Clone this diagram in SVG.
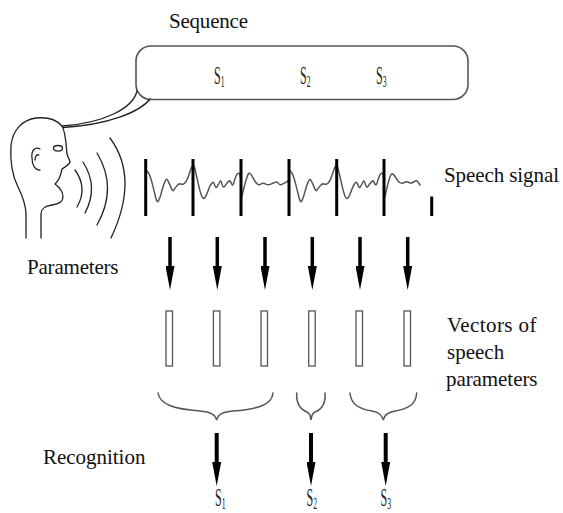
<svg xmlns="http://www.w3.org/2000/svg" xmlns:xlink="http://www.w3.org/1999/xlink" width="563" height="513" viewBox="0 0 563 513">
  <style>
    .lbl { font-family: "Liberation Serif", "Times New Roman", "DejaVu Serif", serif; font-size: 21px; fill: #111; }
    .sym { font-family: "Liberation Serif", "Times New Roman", "DejaVu Serif", serif; font-size: 25px; fill: #222; }
    .sub { font-size: 16px; }
    .ink { fill: none; stroke: #222; stroke-width: 1.3; stroke-linecap: round; stroke-linejoin: round; }
    .wave { fill: none; stroke: #555; stroke-width: 1.5; stroke-linejoin: round; stroke-linecap: round; }
    .bar { fill: #000; }
    .bubble { fill: none; stroke: #555; stroke-width: 1.6; }
    .vec { fill: #fff; stroke: #555; stroke-width: 1.3; }
    .brace { fill: none; stroke: #555; stroke-width: 1.5; stroke-linecap: round; }
    .shaft { stroke: #000; stroke-width: 3.5; marker-end: url(#ah); }
    .shaft2 { stroke: #000; stroke-width: 4; marker-end: url(#ah); }
  </style>
  <defs>
    <marker id="ah" markerUnits="userSpaceOnUse" viewBox="0 0 24 9" refX="0" refY="4.5" markerWidth="24" markerHeight="9" orient="auto">
      <path d="M0,0 L24,4.5 L0,9 Z" fill="#000"/>
    </marker>
    <!-- two waveform segments between consecutive pitch marks -->
    <path id="w12" class="wave" d="M145.7,170 L147.5,171.65 Q149.3,173.3 151,179.15 Q152.7,185 154.7,193.35 Q156.7,203.5 158.35,201 Q160,198.3 161.65,191.65 Q163.3,185 165,181.65 Q166.7,177 168.35,181.65 Q170,185 171.35,188.35 Q172.7,192.5 174.35,189.2 Q176,186.7 177.65,185 Q179.3,183.3 181.3,184.15 Q183.3,185 185.3,182.5 Q187.3,180 189.5,173 Q191.7,166 193,165.5 Q194.3,165 195.5,171.7 Q196.7,176.7 198.35,184.2 Q200,191.7 201.65,196 Q203.3,200 205,197.5 Q206.7,195 208.35,190 Q210,185 211.65,183.35 Q213.3,180.5 214.65,185 Q216,189 217.15,186.65 Q218.3,185 219.5,182.5 Q220.7,179 222,184.15 Q223.3,189 225,185.8 Q226.7,183.3 228.35,181.65 Q230,179.5 231.35,183.35 Q232.7,187.5 234.35,180.85 Q236,175 237.65,173.5 Q239.3,172 240.4,176.65 L241.5,180"/>
  </defs>

  <!-- title -->
  <g id="title">
    <text class="lbl" x="169" y="28" textLength="79">Sequence</text>
  </g>

  <!-- sequence bubble -->
  <g id="sequence">
    <rect class="bubble" x="136" y="46" width="332" height="53.5" rx="15" ry="15"/>
    <text class="sym" transform="translate(214,84) scale(0.48,1)">S<tspan class="sub" dy="3">1</tspan></text>
    <text class="sym" transform="translate(300,84) scale(0.48,1)">S<tspan class="sub" dy="3">2</tspan></text>
    <text class="sym" transform="translate(376,84) scale(0.48,1)">S<tspan class="sub" dy="3">3</tspan></text>
  </g>

  <!-- speaker -->
  <g id="speaker">
    <path class="ink" d="M137,91 C133,108 105,123 62,126"/>
    <path class="ink" d="M150,99 C140,112 108,125 63,127.5"/>
    <path class="ink" d="M26,238 L26,215 C26,205 22,195 18,187 C12,175 10,160 11,145 C13,130 22,120 36,118 C46,117 56,119 62,126 C66,133 66,145 67,154 C68,158 70,160 70,162 C69,165 65,167 62,169 C61,174 60,180 55,184 C59,187 63,191 63,197 C63,202 59,204 52,205 C45,206 41,208 41,214 L41,238"/>
    <ellipse class="ink" cx="58" cy="148.3" rx="4.5" ry="2.8"/>
    <path class="ink" d="M40,149 C35,146 31,151 32,158 C32,165 35,170 40,170 M35,160 C35,156 37,154 39,155"/>
    <path class="ink" d="M75,170 Q88,188 77,207"/>
    <path class="ink" d="M83,162 Q99,187 85,213"/>
    <path class="ink" d="M97,153 Q118,188 97,225"/>
    <path class="ink" d="M110,138 Q139.5,178 111,238"/>
  </g>

  <!-- speech signal -->
  <g id="signal">
    <use xlink:href="#w12"/>
    <path class="wave" d="M241.7,196.7 L243.35,190 Q245,183.3 246.65,178.3 Q248.3,172 250,173.5 Q251.7,175 253.35,178.35 Q255,181.7 256.65,183.35 Q258.3,185.5 260.8,184.15 Q263.3,182.5 265.8,184.15 Q268.3,185.5 270.8,184.15 Q273.3,182.5 275,182.5 Q276.7,181 278.35,183.35 Q280,185.5 282.5,184.15 Q285,183 287,181.65 L289,180"/>
    <use xlink:href="#w12" transform="translate(143.3,0)"/>
    <path class="wave" d="M385,196.7 L386.5,189.85 Q388,183 389.5,178.5 Q391,173 392.75,174 Q394.5,175 396.25,178.35 Q398,181.7 399.85,182.5 Q401.7,183.8 404.2,182.5 Q406.7,181 409.2,182.5 Q411.7,183.8 414.2,181.65 Q416.7,179.5 418.35,182.5 L420,185"/>
    <rect class="bar" x="144.2" y="159" width="3" height="57"/>
    <rect class="bar" x="191.5" y="159" width="3" height="57"/>
    <rect class="bar" x="239.5" y="159" width="3" height="57"/>
    <rect class="bar" x="287.5" y="159" width="3" height="57"/>
    <rect class="bar" x="335.2" y="159" width="3" height="57"/>
    <rect class="bar" x="382.5" y="159" width="3" height="57"/>
    <rect class="bar" x="430.2" y="196.5" width="3" height="19.5"/>
    <text class="lbl" x="444" y="182" textLength="115">Speech signal</text>
  </g>

  <g id="parameters-label">
    <text class="lbl" x="27" y="274" textLength="91.5">Parameters</text>
  </g>

  <!-- speech parameter vectors -->
  <g id="vectors">
    <rect class="vec" x="166" y="311" width="6.5" height="55"/>
    <rect class="vec" x="213.4" y="311" width="6.5" height="55"/>
    <rect class="vec" x="261" y="311" width="6.5" height="55"/>
    <rect class="vec" x="308.7" y="311" width="6.5" height="55"/>
    <rect class="vec" x="356" y="311" width="6.5" height="55"/>
    <rect class="vec" x="404" y="311" width="6.5" height="55"/>
    <text class="lbl" x="447" y="332" textLength="89.5">Vectors of</text>
    <text class="lbl" x="447" y="359">speech</text>
    <text class="lbl" x="446" y="386" textLength="91.5">parameters</text>
  </g>

  <!-- grouping braces -->
  <g id="braces">
    <path class="brace" d="M158,393 C160,405 175,409 200,411 C210,412 215,414 216.7,420 C218,414 223,412 233,411 C258,409 272,405 273,393"/>
    <path class="brace" d="M296.7,393 C296,405 302,410 307,412 C309,413 310.5,415 311,420 C311.5,415 313,413 315,412 C320,410 326,405 325,393"/>
    <path class="brace" d="M350,393 C351,405 360,409 372,411 C378,412 382,414 383.3,420 C384.5,414 389,412 395,411 C407,409 416,405 416.7,393"/>
  </g>

  <g id="recognition-label">
    <text class="lbl" x="43" y="464" textLength="102.4">Recognition</text>
  </g>

  <!-- recognised symbols -->
  <g id="results">
    <text class="sym" transform="translate(215,506) scale(0.48,1)">S<tspan class="sub" dy="2.5">1</tspan></text>
    <text class="sym" transform="translate(306.5,506) scale(0.48,1)">S<tspan class="sub" dy="2.5">2</tspan></text>
    <text class="sym" transform="translate(380.5,506) scale(0.48,1)">S<tspan class="sub" dy="2.5">3</tspan></text>
  </g>

  <!-- connectors -->
  <g id="connectors">
    <line class="shaft" x1="170" y1="237" x2="170" y2="266"/>
    <line class="shaft" x1="217.3" y1="237" x2="217.3" y2="266"/>
    <line class="shaft" x1="265" y1="237" x2="265" y2="266"/>
    <line class="shaft" x1="312.3" y1="237" x2="312.3" y2="266"/>
    <line class="shaft" x1="360" y1="237" x2="360" y2="266"/>
    <line class="shaft" x1="407.7" y1="237" x2="407.7" y2="266"/>
    <line class="shaft2" x1="216.7" y1="433" x2="216.7" y2="462"/>
    <line class="shaft2" x1="311" y1="433" x2="311" y2="462"/>
    <line class="shaft2" x1="385.7" y1="433" x2="385.7" y2="462"/>
  </g>
</svg>
